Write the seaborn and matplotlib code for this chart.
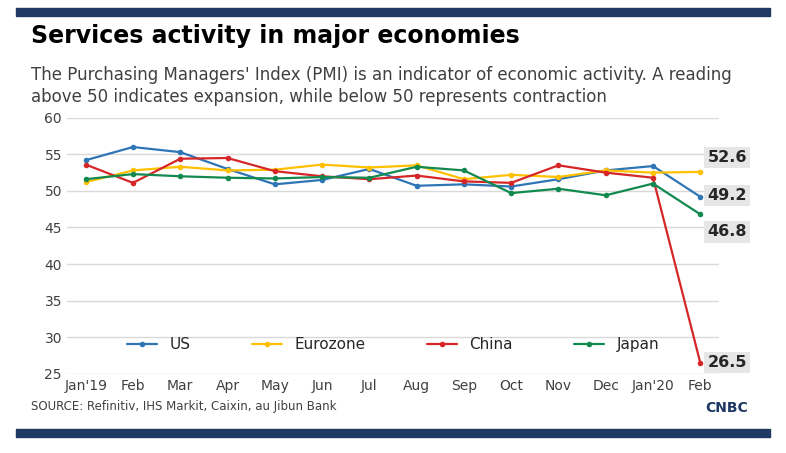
import matplotlib
matplotlib.use("Agg")
import matplotlib.pyplot as plt
import seaborn as sns
import pandas as pd

months = ["Jan'19","Feb","Mar","Apr","May","Jun","Jul","Aug","Sep","Oct","Nov","Dec","Jan'20","Feb"]
us = [54.2,56.0,55.3,53.0,50.9,51.5,53.0,50.7,50.9,50.6,51.6,52.8,53.4,49.2]
euro = [51.2,52.8,53.3,52.8,52.9,53.6,53.2,53.5,51.6,52.2,51.9,52.8,52.5,52.6]
china = [53.6,51.1,54.4,54.5,52.7,52.0,51.6,52.1,51.3,51.1,53.5,52.5,51.8,26.5]
japan = [51.6,52.3,52.0,51.8,51.7,51.9,51.8,53.3,52.8,49.7,50.3,49.4,51.0,46.8]
series = {"US": us, "Eurozone": euro, "China": china, "Japan": japan}
colors = {"US": "#2E75B6", "Eurozone": "#FFC000", "China": "#D62728", "Japan": "#128A4F"}

rows = []
for name, vals in series.items():
    for i, v in enumerate(vals):
        rows.append({"x": i, "v": v, "s": name})
df = pd.DataFrame(rows)

sns.set_theme(style="white")
plt.rcParams['font.family'] = ['DejaVu Sans']
fig = plt.figure(figsize=(7.86, 4.53), dpi=100)
fig.patch.set_facecolor("white")
ax = fig.add_axes([0.085, 0.175, 0.83, 0.565])
sns.lineplot(data=df, x="x", y="v", hue="s", palette=colors, marker="o",
             markersize=4, markeredgewidth=0, linewidth=1.6, ax=ax)
ax.set_ylim(25, 60)
ax.set_xlim(-0.4, 13.4)
ax.set_yticks(range(25, 61, 5))
ax.set_xticks(range(len(months)))
ax.set_xticklabels(months)
ax.tick_params(labelsize=10, colors="#404040", length=0)
ax.grid(axis="y", color="#d9d9d9", linewidth=1)
for s in ax.spines.values():
    s.set_visible(False)
ax.set_xlabel(""); ax.set_ylabel("")
leg = ax.legend(loc="lower center", bbox_to_anchor=(0.5, 0.03), ncol=4, frameon=False,
                fontsize=11, handlelength=2, columnspacing=4)
for t, y in [("52.6", 54.6), ("49.2", 49.4), ("46.8", 44.4), ("26.5", 26.5)]:
    ax.annotate(t, xy=(13.15, y), fontsize=11.5, fontweight="bold", va="center",
                ha="left", annotation_clip=False,
                bbox=dict(boxstyle="square,pad=0.2", fc="#e6e6e6", ec="none"))
fig.text(0.04, 0.905, "Services activity in major economies", fontsize=17, fontweight="bold", color="black")
fig.text(0.04, 0.775, "The Purchasing Managers' Index (PMI) is an indicator of economic activity. A reading\nabove 50 indicates expansion, while below 50 represents contraction",
         fontsize=12, color="#404040", linespacing=1.3)
fig.text(0.04, 0.095, "SOURCE: Refinitiv, IHS Markit, Caixin, au Jibun Bank", fontsize=8.5, color="#404040")
fig.text(0.925, 0.09, "CNBC", fontsize=10, fontweight="bold", color="#1f3864", ha="center")
fig.add_artist(plt.Rectangle((0.02, 0.965), 0.96, 0.018, transform=fig.transFigure, color="#1f3864"))
fig.add_artist(plt.Rectangle((0.02, 0.035), 0.96, 0.018, transform=fig.transFigure, color="#1f3864"))
fig.savefig("out.png", dpi=100)
